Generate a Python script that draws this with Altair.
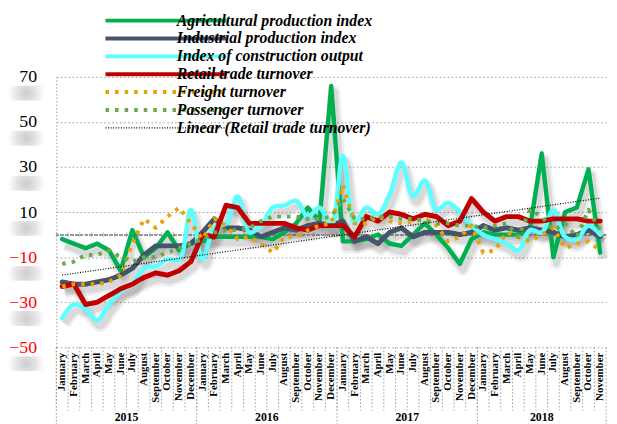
import json
import altair as alt
import pandas as pd

MONTHS = ["January", "February", "March", "April", "May", "June", "July",
          "August", "September", "October", "November", "December"]
YEARS = ["2015", "2016", "2017", "2018"]
SERIES = ["Agricultural production index", "Industrial production index",
          "Index of construction output", "Retail trade turnover",
          "Freight turnover", "Passenger turnover"]
TREND = "Linear (Retail trade turnover)"
Y_TICKS = [-50, -30, -10, 10, 30, 50, 70]

# Monthly values, January 2015 .. November 2018 (47 months)
agri = [-2, -4, -6, -4, -7, -16, 2, -10, -6, 1, -7, -4,
        -3, -1, -1, -1, -1, -1, -2, 1, 5, 12, 6, 66,
        -3, -3, -2, 0, -4, -5, 0, 5, 0, -6, -13, -2,
        1, 0, 0, 0, 3, 36, -10, 10, 12, 29, -8]
industrial = [-21, -22, -22, -21, -20, -18, -15, -9, -5, -5, -5, -4,
              1, 7, 3, 3, 2, -1, 1, 3, 2, 4, 5, 4,
              6, -3, -1, -4, 1, 3, -1, 1, 1, 1, 0, 1,
              4, 2, 3, 2, 3, 2, 1, -1, 0, 2, -1]
construction = [-37, -31, -33, -38, -31, -25, -22, -15, -14, -11, -11, 11,
                -11, 3, 5, 17, 1, 4, 12, 13, 15, 8, 12, 4,
                35, 5, 12, 9, 18, 32, 17, 24, 11, 14, 10, 4,
                0, -2, -4, -7, 2, 1, 11, -1, -2, 4, 0]
retail = [-23, -22, -31, -30, -27, -24, -22, -19, -17, -18, -16, -12,
          0, -1, 13, 12, 5, 5, 5, 5, 3, 2, 4, 4,
          4, -1, 8, 6, 10, 9, 7, 9, 8, 4, 6, 16,
          10, 6, 8, 8, 6, 6, 7, 7, 7, 6, 6]
freight = [-23, -22, -22, -22, -21, -18, -4, 7, 3, 8, 12, 5,
           -2, 7, 4, -2, -1, -4, -8, -1, -1, 2, 4, 5,
           22, 5, 5, 8, 6, 5, 6, 7, 4, -3, -1, 4,
           -8, -7, 1, -1, -3, 0, 3, -6, -4, -3, -7]
passenger = [-13, -12, -9, -9, -7, -10, -12, -10, -10, -8, -6, -4,
             -2, 1, 2, 2, 3, 6, 8, 8, 8, 7, 7, 8,
             16, 7, 7, 8, 8, 7, 7, 6, 5, 5, 4, 4,
             3, 4, 5, -1, 11, 8, 2, 5, -1, 11, 2]

VALUES = [agri, industrial, construction, retail, freight, passenger]
ALL = SERIES + [TREND]
COLORS = ["#00B050", "#44546A", "#5CFFFF", "#C00000", "#E8A202", "#6AAB47", "#000000"]
DASHES = [[1, 0], [1, 0], [1, 0], [1, 0], [3.6, 6.1], [3.6, 6.1], [1, 1.6]]

rows = []
for name, vals in zip(SERIES, VALUES):
    for i, v in enumerate(vals):
        rows.append({"i": i, "v": v, "series": name})
df = pd.DataFrame(rows)
months_df = pd.DataFrame({"i": list(range(len(agri)))})
year_start_df = pd.DataFrame({"i": [0, 12, 24, 36]})
year_end_df = pd.DataFrame({"i": [len(agri) - 1]})
year_full_df = pd.DataFrame({"year": YEARS[:3], "i": [5, 17, 29]})
year_last_df = pd.DataFrame({"year": YEARS[3:], "i": [41]})
ticks_df = pd.DataFrame({"t": Y_TICKS})

W, H = 557, 274
SERIF = "Liberation Serif"

x_scale = alt.Scale(type="band", paddingInner=0, paddingOuter=0)
x_axis = alt.Axis(
    title=None, labelAngle=270, labelAlign="right", labelBaseline="middle",
    labelExpr=json.dumps(MONTHS) + "[datum.value % 12]",
    labelFont=SERIF, labelFontSize=11, labelFontWeight="bold", labelColor="black",
    labelPadding=5, labelOverlap=False, ticks=False, domain=False, grid=False,
)
y_scale = alt.Scale(domain=[-50, 70], nice=False, zero=False)
y_axis = alt.Axis(
    title=None, values=Y_TICKS, ticks=False, labelPadding=20,
    labelFont=SERIF, labelFontSize=18,
    labelColor={"expr": "datum.value < 0 ? '#FF0000' : '#000000'"},
    grid=True, gridColor="#9a9a9a", gridDash=[1.5, 2.5], gridWidth=1,
    domain=True, domainColor="#9a9a9a", domainDash=[1.5, 2], domainWidth=1,
)


def X(band=0.5):
    return alt.X("i:O", bandPosition=band, scale=x_scale, axis=x_axis)


Y = alt.Y("v:Q", scale=y_scale, axis=y_axis)

legend = alt.Legend(
    title=None, orient="none", legendX=103, legendY=-65, padding=0,
    symbolType="stroke", symbolSize=15000,
    symbolStrokeWidth=alt.ExprRef("datum.value === '" + TREND + "' ? 1.2 : 4"),
    labelFont=SERIF, labelFontSize=16, labelFontWeight="bold",
    labelFontStyle="italic", labelColor="black", labelLimit=400,
    labelOffset=3, rowPadding=2.1,
)
color = alt.Color("series:N", scale=alt.Scale(domain=ALL, range=COLORS), legend=legend)
dash = alt.StrokeDash("series:N", scale=alt.Scale(domain=ALL, range=DASHES), legend=legend)

base = alt.Chart(df)

# soft grey "reflection" under each value-axis label
label_glow = alt.Chart(ticks_df).mark_rect(
    fill={"gradient": "radial", "x1": 0.5, "y1": 0.5, "r1": 0,
          "x2": 0.5, "y2": 0.5, "r2": 0.5,
          "stops": [{"offset": 0, "color": "#cdcdcd"},
                    {"offset": 0.55, "color": "#e4e4e4"},
                    {"offset": 1, "color": "#ffffff"}]},
    yOffset=9, y2Offset=24,
).encode(
    y=alt.Y("t:Q", scale=y_scale, axis=y_axis), y2="t:Q",
    x=alt.value(-49), x2=alt.value(-12),
)

zero_line = base.mark_rule(color="#9a9a9a", strokeDash=[3, 2], strokeWidth=1).encode(
    y=alt.datum(0, scale=y_scale))
zero_ticks = alt.Chart(months_df).mark_tick(
    orient="vertical", size=5, color="#9a9a9a", thickness=1).encode(
    x=X(0), y=alt.datum(0, scale=y_scale))
month_sep = alt.Chart(months_df).mark_rule(
    color="#9a9a9a", strokeDash=[1.5, 2], strokeWidth=1).encode(
    x=X(0), y=alt.value(H), y2=alt.value(H + 64))
year_sep = alt.Chart(year_start_df).mark_rule(
    color="#9a9a9a", strokeDash=[1.5, 2], strokeWidth=1).encode(
    x=X(0), y=alt.value(H), y2=alt.value(H + 82))
year_end = alt.Chart(year_end_df).mark_rule(
    color="#9a9a9a", strokeDash=[1.5, 2], strokeWidth=1).encode(
    x=X(1), y=alt.value(H), y2=alt.value(H + 82))


def shadow(names, interp, width, opacity):
    return base.transform_filter(
        alt.FieldOneOfPredicate(field="series", oneOf=names)
    ).mark_line(color="#5f5f5f", opacity=opacity, strokeWidth=width,
                xOffset=3, yOffset=6, interpolate=interp, strokeJoin="round").encode(
        x=X(), y=Y, detail="series:N")


def series_line(name, width=4, interp="linear", cap="round"):
    return base.transform_filter(alt.datum.series == name).mark_line(
        strokeWidth=width, strokeCap=cap, strokeJoin="round", interpolate=interp
    ).encode(x=X(), y=Y, color=color, strokeDash=dash)


lin_names = [SERIES[0], SERIES[1], SERIES[3]]
shadows = [
    shadow(lin_names, "linear", 12, 0.10),
    shadow(lin_names, "linear", 7, 0.15),
    shadow([SERIES[2]], "catmull-rom", 12, 0.10),
    shadow([SERIES[2]], "catmull-rom", 7, 0.15),
]

lines = [
    series_line(SERIES[0], 4.5),
    series_line(SERIES[1], 5),
    series_line(SERIES[2], 4.5, "catmull-rom"),
    series_line(SERIES[3], 5),
    series_line(SERIES[4], 4, cap="butt"),
    series_line(SERIES[5], 4, cap="butt"),
]

trend = base.transform_filter(alt.datum.series == SERIES[3]).transform_regression(
    "i", "v").transform_calculate(series="'" + TREND + "'").mark_line(
    strokeWidth=1.2).encode(x=X(), y=Y, color=color, strokeDash=dash)

year_text_full = alt.Chart(year_full_df).mark_text(
    font=SERIF, fontSize=12, fontWeight="bold", color="black", baseline="alphabetic").encode(
    x=X(1), y=alt.value(H + 75), text="year:N")
year_text_last = alt.Chart(year_last_df).mark_text(
    font=SERIF, fontSize=12, fontWeight="bold", color="black", baseline="alphabetic").encode(
    x=X(0.5), y=alt.value(H + 75), text="year:N")

chart = alt.layer(
    label_glow, zero_line, zero_ticks, month_sep, year_sep, year_end,
    *shadows, *lines, trend, year_text_full, year_text_last,
).properties(
    width=W, height=H,
    padding={"left": 49, "top": 67, "right": 3, "bottom": 82},
    autosize=alt.AutoSizeParams(type="none"),
    background="white",
).configure_view(strokeWidth=0)

chart.save("out.html", embed_options={"renderer": "svg", "actions": False})
